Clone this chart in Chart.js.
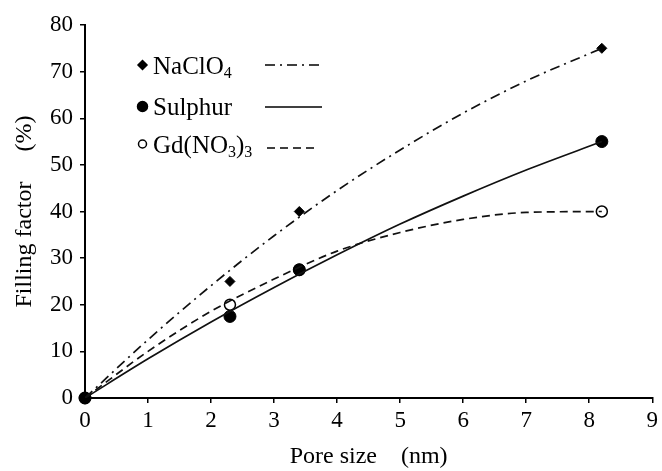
<!DOCTYPE html>
<html>
<head>
<meta charset="utf-8">
<script src="https://cdn.jsdelivr.net/npm/chart.js@4.4.1/dist/chart.umd.min.js"></script>
<style>
  html, body { margin: 0; padding: 0; background: #fff; }
  #wrap { width: 662px; height: 471px; }
</style>
</head>
<body>
<div id="wrap"><canvas id="chart" width="662" height="471"></canvas></div>
<script>
// measured points
const poreSize = [0, 2.3, 3.4, 8.2];
const naclo4 = [0, 25, 40, 75];
const sulphur = [0, 17.5, 27.5, 55];
const gdno3 = [0, 20, 27.5, 40];

// trend curves
const curveX = [0, 1, 2, 3, 4, 5, 6, 7, 8.2];
const naclo4Fit = [0, 12.5, 24.1, 34.8, 44.5, 53.2, 61.1, 68, 75];
const sulphurFit = [0, 8.4, 16.3, 23.7, 30.7, 37.3, 43.3, 48.9, 55];
const gdno3Fit = [0, 10, 18.6, 25.5, 31.5, 35.5, 38.3, 39.8, 40];

const xTicks = [0, 1, 2, 3, 4, 5, 6, 7, 8, 9];
const yTicks = [0, 10, 20, 30, 40, 50, 60, 70, 80];

const FONT = "'Liberation Serif', 'Times New Roman', serif";

const toXY = (xs, ys) => xs.map((x, i) => ({ x: x, y: ys[i] }));

// legend drawn inside the plot area, top left
// parts: [text, isSubscript]
const legendItems = [
    { parts: [['NaClO', 0], ['4', 1]], style: 'diamond', fill: '#000', dash: [10, 5, 2, 5], radius: 4.5, line: [265, 322] },
    { parts: [['Sulphur', 0]], style: 'circle', fill: '#000', dash: [], radius: 5, line: [265, 322] },
    { parts: [['Gd(NO', 0], ['3', 1], [')', 0], ['3', 1]], style: 'circle', fill: '#fff', dash: [8, 5], radius: 4, line: [267, 316] }
];

const innerLegend = {
    id: 'innerLegend',
    afterDraw(chart) {
        const ctx = chart.ctx;
        const markY = [65, 106.5, 144];
        const textY = [74, 115, 153];
        const lineY = [65, 107, 148];
        ctx.save();
        legendItems.forEach((it, i) => {
            const y = markY[i];
            ctx.fillStyle = it.fill;
            ctx.strokeStyle = '#000';
            ctx.lineWidth = 1.5;
            ctx.beginPath();
            if (it.style === 'circle') {
                ctx.arc(142.5, y, it.radius, 0, Math.PI * 2);
            } else {
                ctx.moveTo(142.5, y - it.radius); ctx.lineTo(142.5 + it.radius, y);
                ctx.lineTo(142.5, y + it.radius); ctx.lineTo(142.5 - it.radius, y);
                ctx.closePath();
            }
            ctx.fill();
            ctx.stroke();

            // label with subscripts
            ctx.fillStyle = '#000';
            ctx.textBaseline = 'alphabetic';
            let x = 153;
            it.parts.forEach(([txt, sub]) => {
                ctx.font = (sub ? '16px ' : '25px ') + FONT;
                ctx.fillText(txt, x, textY[i] + (sub ? 4 : 0));
                x += ctx.measureText(txt).width;
            });

            // line sample
            ctx.beginPath();
            ctx.setLineDash(it.dash);
            ctx.lineWidth = 1.7;
            ctx.moveTo(it.line[0], lineY[i]);
            ctx.lineTo(it.line[1], lineY[i]);
            ctx.stroke();
            ctx.setLineDash([]);
        });
        ctx.restore();
    }
};

new Chart(document.getElementById('chart'), {
    type: 'scatter',
    data: {
        datasets: [
            { label: 'NaClO4 fit', data: toXY(curveX, naclo4Fit), showLine: true, pointRadius: 0,
              borderColor: '#111', borderWidth: 1.7, borderDash: [10, 5, 2, 5], cubicInterpolationMode: 'monotone' },
            { label: 'Sulphur fit', data: toXY(curveX, sulphurFit), showLine: true, pointRadius: 0,
              borderColor: '#111', borderWidth: 1.7, cubicInterpolationMode: 'monotone' },
            { label: 'Gd(NO3)3 fit', data: toXY(curveX, gdno3Fit), showLine: true, pointRadius: 0,
              borderColor: '#111', borderWidth: 1.7, borderDash: [8, 5], cubicInterpolationMode: 'monotone' },
            { label: 'NaClO4', data: toXY(poreSize, naclo4), pointStyle: 'rectRot', pointRadius: 5,
              backgroundColor: '#000', borderColor: '#000', clip: false },
            { label: 'Sulphur', data: toXY(poreSize, sulphur), pointStyle: 'circle', pointRadius: 6,
              backgroundColor: '#000', borderColor: '#000', clip: false },
            { label: 'Gd(NO3)3', data: toXY(poreSize, gdno3), pointStyle: 'circle', pointRadius: 5.5,
              backgroundColor: '#fff', borderColor: '#000', borderWidth: 1.5, clip: false }
        ]
    },
    options: {
        responsive: false,
        animation: false,
        layout: { padding: { top: 25, right: 7, left: 0, bottom: 0 } },
        plugins: { legend: { display: false }, tooltip: { enabled: false } },
        scales: {
            x: {
                type: 'linear', min: 0, max: 9,
                afterBuildTicks: (s) => { s.ticks = xTicks.map(v => ({ value: v })); },
                afterFit: (s) => { s.height = 73; },
                grid: { drawOnChartArea: false, drawTicks: true, tickLength: 5, color: '#000', lineWidth: 1.5 },
                border: { color: '#000', width: 2 },
                ticks: { color: '#000', font: { family: FONT, size: 23 }, padding: 4, maxRotation: 0 },
                title: { display: true, text: 'Pore size    (nm)', color: '#000',
                         font: { family: FONT, size: 24 }, padding: { top: 0, bottom: 0 } }
            },
            y: {
                type: 'linear', min: 0, max: 80,
                afterBuildTicks: (s) => { s.ticks = yTicks.map(v => ({ value: v })); },
                afterFit: (s) => { s.width = 85; },
                grid: { drawOnChartArea: false, drawTicks: true, tickLength: 5, color: '#000', lineWidth: 1.5 },
                border: { color: '#000', width: 2 },
                ticks: { color: '#000', font: { family: FONT, size: 23 }, padding: 7 },
                title: { display: true, text: 'Filling factor     (%)', color: '#000',
                         font: { family: FONT, size: 24 }, padding: { top: 10, bottom: 0 } }
            }
        }
    },
    plugins: [innerLegend]
});
</script>
</body>
</html>
